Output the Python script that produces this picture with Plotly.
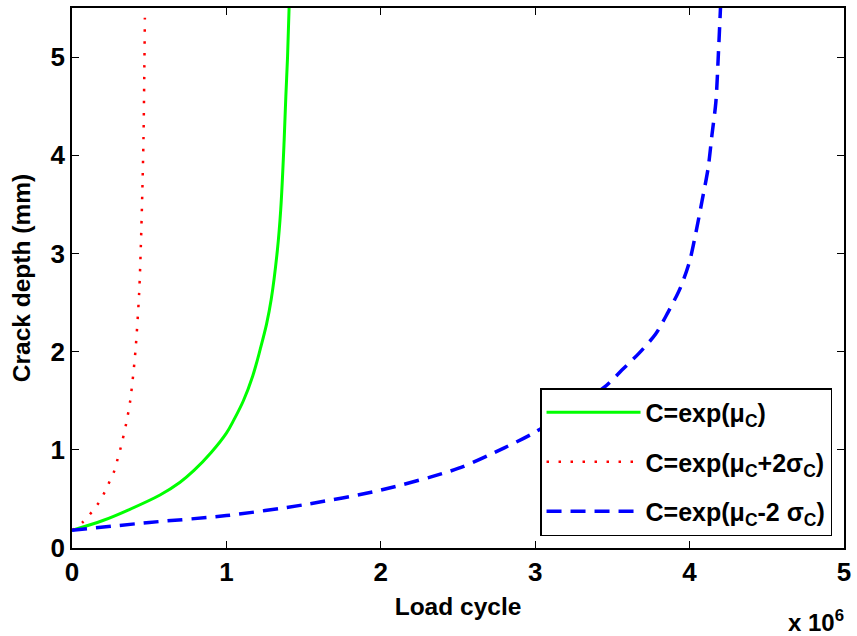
import plotly.graph_objects as go

# Load cycle (x 10^6) and crack depth (mm)
green_x = [0, 0.2, 0.36, 0.57, 0.7, 0.79, 0.9, 1.0, 1.05, 1.11, 1.17, 1.22, 1.26, 1.29, 1.33, 1.352, 1.374, 1.385, 1.396, 1.406]
green_y = [0.18, 0.28, 0.384, 0.54, 0.67, 0.79, 0.97, 1.17, 1.31, 1.5, 1.75, 2.03, 2.28, 2.53, 3.03, 3.45, 4.15, 4.6, 5.0, 5.5]

red_x = [0, 0.075, 0.13, 0.173, 0.212, 0.244, 0.275, 0.296, 0.316, 0.35, 0.377, 0.41, 0.435, 0.446, 0.455, 0.463, 0.468, 0.472]
red_y = [0.18, 0.27, 0.37, 0.46, 0.57, 0.68, 0.79, 0.91, 1.025, 1.26, 1.5, 1.99, 2.6, 3.08, 3.6, 4.17, 4.8, 5.4]

blue_x = [0, 0.5, 1.0, 1.5, 2.0, 2.5, 2.8, 3.0, 3.2, 3.45, 3.56, 3.67, 3.78, 3.86, 3.94, 4.0, 4.043, 4.08, 4.12, 4.145, 4.17, 4.187, 4.2]
blue_y = [0.18, 0.26, 0.33, 0.44, 0.59, 0.81, 1.02, 1.18, 1.38, 1.64, 1.81, 1.98, 2.18, 2.40, 2.65, 2.92, 3.23, 3.53, 3.87, 4.21, 4.54, 5.05, 5.5]

SUB = "<sub>C</sub>"
names = ["C=exp(μ" + SUB + ")", "C=exp(μ" + SUB + "+2σ" + SUB + ")", "C=exp(μ" + SUB + "-2 σ" + SUB + ")"]
x_ticks = [0, 1, 2, 3, 4, 5]
y_ticks = [0, 1, 2, 3, 4, 5]

FONT = "Liberation Sans, Arial, Helvetica, sans-serif"

fig = go.Figure()
fig.add_trace(go.Scatter(x=green_x, y=green_y, mode="lines", name=names[0], legendgroup="a",
                         line=dict(color="#00ff00", width=3, shape="spline", smoothing=1.0)))
fig.add_trace(go.Scatter(x=red_x, y=red_y, mode="lines", name=names[1], legendgroup="b",
                         line=dict(color="#ff0000", width=2.5, dash="2.5px,9.5px", shape="spline", smoothing=0.8)))
fig.add_trace(go.Scatter(x=blue_x, y=blue_y, mode="lines", name=names[2], legendgroup="c",
                         line=dict(color="#0000ff", width=3.5, dash="15px,9px", shape="spline", smoothing=0.8)))

axis_common = dict(showline=True, linecolor="black", linewidth=1.5, mirror="ticks",
                   ticks="inside", ticklen=7, tickcolor="black", tickwidth=1,
                   showgrid=False, zeroline=False,
                   tickfont=dict(family=FONT, size=26, color="black", weight=700))

fig.update_xaxes(range=[0, 5], tickvals=x_ticks, ticktext=[str(v) for v in x_ticks],
                 title=dict(text="Load cycle", font=dict(family=FONT, size=24.5, color="black", weight=700), standoff=12),
                 **axis_common)
fig.update_yaxes(range=[0, 5.5], tickvals=y_ticks, ticktext=[str(v) for v in y_ticks],
                 title=dict(text="Crack depth (mm)", font=dict(family=FONT, size=24.5, color="black", weight=700), standoff=13),
                 **axis_common)

fig.add_annotation(text="x 10<sup>6</sup>", xref="paper", yref="paper", x=1.003, y=-0.135,
                   xanchor="right", yanchor="middle", showarrow=False,
                   font=dict(family=FONT, size=24, color="black", weight=700))

fig.update_layout(
    width=857, height=636,
    margin=dict(l=72, r=12, t=6, b=88),
    paper_bgcolor="white", plot_bgcolor="white",
    showlegend=True,
    legend=dict(x=0.9845, y=0.022, xanchor="right", yanchor="bottom",
                bordercolor="black", borderwidth=1.5, bgcolor="white",
                itemwidth=94, tracegroupgap=14, traceorder="grouped",
                font=dict(family=FONT, size=25, color="black", weight=700)),
)

fig.write_html("out.html")
